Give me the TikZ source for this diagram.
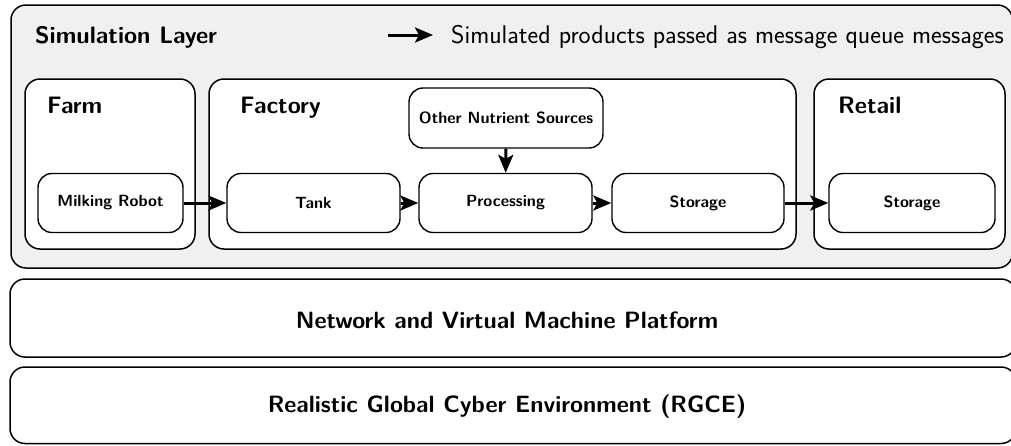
\documentclass[tikz,border=0pt]{standalone}
\usetikzlibrary{arrows.meta}
\definecolor{layerfill}{HTML}{F0F0F0}
\begin{document}
\begin{tikzpicture}[x=1pt,y=-1pt,
  frame/.style={draw=black,line width=1.5pt,rounded corners=15pt},
  group/.style={frame,fill=white},
  stage/.style={draw=black,line width=1.4pt,rounded corners=14pt,fill=white,
    minimum width=#1,minimum height=59pt,inner sep=0pt,
    font=\fontsize{16.2}{19}\selectfont\sffamily\bfseries},
  stage/.default=145pt,
  heading/.style={anchor=base west,inner sep=0pt,font=\fontsize{23.8}{28}\selectfont\sffamily\bfseries},
  flow/.style={line width=3pt,-{Stealth[length=18pt,width=15pt,inset=4pt]}},
  layertext/.style={font=\fontsize{23.6}{28}\selectfont\sffamily\bfseries}
]
\useasboundingbox (0,0) rectangle (1011,445);

% simulation layer and its three sites
\draw[frame,fill=layerfill] (11,5) rectangle (1012.5,268);
\node[heading] (simtitle) at (35,43) {Simulation Layer};
\draw[group] (25,79) rectangle (195,249);
\draw[group] (209,79) rectangle (796,249);
\draw[group] (814,79) rectangle (1005,249);
\node[heading] (farm) at (47,113) {Farm};
\node[heading] (factory) at (240,113) {Factory};
\node[heading] (retail) at (838,113) {Retail};

% legend
\coordinate (legA) at (388,35);
\coordinate (legB) at (433,35);
\draw[flow] (legA) -- (legB);
\node[anchor=base west,inner sep=0pt,font=\fontsize{25.6}{30}\selectfont\sffamily] (legtext) at (451,43)
  {Simulated products passed as message queue messages};

% process stages
\node[stage=145pt] (robot) at (110.5,203) {Milking Robot};
\node[stage=173pt] (tank) at (313.5,203) {Tank};
\node[stage=173pt] (proc) at (505.5,203) {Processing};
\node[stage=172pt] (store) at (698,203) {Storage};
\node[stage=166pt] (rstore) at (912,203) {Storage};
\node[stage=194pt,minimum height=60pt] (other) at (506,118) {Other Nutrient Sources};

\draw[flow] (robot) -- (tank);
\draw[flow] (tank) -- (proc);
\draw[flow] (proc) -- (store);
\draw[flow] (store) -- (rstore);
\draw[flow] (other) -- (proc);

% lower platform layers
\draw[frame] (10,279) rectangle (1016,357);
\node[layertext] (net) at (507,320) {Network and Virtual Machine Platform};
\draw[frame] (10,367) rectangle (1016,443.5);
\node[layertext] (rgce) at (507,407) {Realistic Global Cyber Environment (RGCE)};
\end{tikzpicture}
\end{document}
